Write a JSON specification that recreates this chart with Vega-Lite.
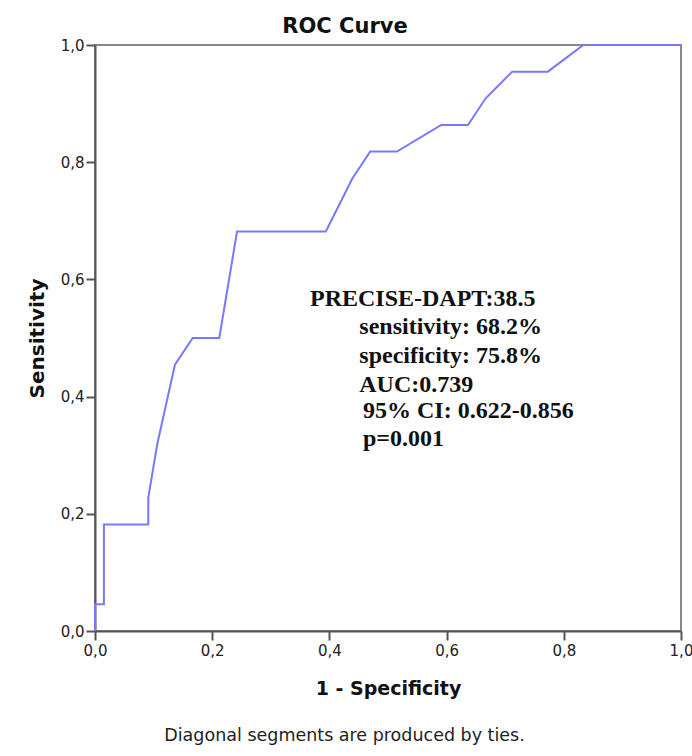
{
  "$schema": "https://vega.github.io/schema/vega-lite/v6.json",
  "width": 586,
  "height": 586,
  "autosize": {"type": "none"},
  "padding": {"left": 95, "top": 45, "right": 11, "bottom": 125},
  "background": "white",
  "config": {
    "view": {"stroke": "#888888", "strokeWidth": 2},
    "axis": {
      "domainColor": "#555555",
      "domainWidth": 2,
      "tickColor": "#555555",
      "tickWidth": 2,
      "tickSize": 9,
      "grid": false,
      "labelFont": "DejaVu Sans",
      "labelFontSize": 15,
      "labelColor": "#222222",
      "labelFlush": false,
      "labelOverlap": false,
      "titleFont": "DejaVu Sans",
      "titleFontSize": 19,
      "titleFontWeight": "bold",
      "titleColor": "#111111"
    }
  },
  "title": {
    "text": "ROC Curve",
    "font": "DejaVu Sans",
    "fontSize": 21,
    "fontWeight": "bold",
    "color": "#111111",
    "frame": "group",
    "anchor": "middle",
    "dx": -43,
    "offset": 1
  },
  "datasets": {
    "roc": [
      {"i": 0, "fpr": 0, "tpr": 0},
      {"i": 1, "fpr": 0, "tpr": 0.0455},
      {"i": 2, "fpr": 0.0152, "tpr": 0.0455},
      {"i": 3, "fpr": 0.0152, "tpr": 0.1818},
      {"i": 4, "fpr": 0.0909, "tpr": 0.1818},
      {"i": 5, "fpr": 0.0909, "tpr": 0.2273},
      {"i": 6, "fpr": 0.1061, "tpr": 0.3182},
      {"i": 7, "fpr": 0.1364, "tpr": 0.4545},
      {"i": 8, "fpr": 0.1667, "tpr": 0.5},
      {"i": 9, "fpr": 0.2121, "tpr": 0.5},
      {"i": 10, "fpr": 0.2424, "tpr": 0.6818},
      {"i": 11, "fpr": 0.3939, "tpr": 0.6818},
      {"i": 12, "fpr": 0.4394, "tpr": 0.7727},
      {"i": 13, "fpr": 0.4697, "tpr": 0.8182},
      {"i": 14, "fpr": 0.5152, "tpr": 0.8182},
      {"i": 15, "fpr": 0.5909, "tpr": 0.8636},
      {"i": 16, "fpr": 0.6364, "tpr": 0.8636},
      {"i": 17, "fpr": 0.6667, "tpr": 0.9091},
      {"i": 18, "fpr": 0.7121, "tpr": 0.9545},
      {"i": 19, "fpr": 0.7727, "tpr": 0.9545},
      {"i": 20, "fpr": 0.8333, "tpr": 1},
      {"i": 21, "fpr": 1, "tpr": 1}
    ],
    "notes": [
      {"text": "PRECISE-DAPT:38.5", "fpr": 0.3669, "tpr": 0.5546},
      {"text": "sensitivity: 68.2%", "fpr": 0.451, "tpr": 0.5068},
      {"text": "specificity: 75.8%", "fpr": 0.451, "tpr": 0.4578},
      {"text": "AUC:0.739", "fpr": 0.451, "tpr": 0.4084},
      {"text": "95% CI: 0.622-0.856", "fpr": 0.4573, "tpr": 0.363},
      {"text": "p=0.001", "fpr": 0.4573, "tpr": 0.3162}
    ],
    "foot": [
      {"text": "Diagonal segments are produced by ties.", "fpr": 0.4258, "tpr": -0.1877}
    ]
  },
  "layer": [
    {
      "data": {"name": "roc"},
      "mark": {"type": "line", "color": "#7878ff", "strokeWidth": 2, "clip": false},
      "encoding": {
        "x": {
          "field": "fpr",
          "type": "quantitative",
          "scale": {"domain": [0, 1], "nice": false, "zero": false},
          "axis": {
            "title": "1 - Specificity",
            "values": [0, 0.2, 0.4, 0.6, 0.8, 1],
            "labelExpr": "replace(format(datum.value, '.1f'), '.', ',')",
            "labelPadding": 3,
            "titlePadding": 21
          }
        },
        "y": {
          "field": "tpr",
          "type": "quantitative",
          "scale": {"domain": [0, 1], "nice": false, "zero": false},
          "axis": {
            "title": "Sensitivity",
            "titleFontSize": 20,
            "values": [0, 0.2, 0.4, 0.6, 0.8, 1],
            "labelExpr": "replace(format(datum.value, '.1f'), '.', ',')",
            "labelPadding": 2,
            "titlePadding": 13
          }
        },
        "order": {"field": "i", "type": "quantitative"}
      }
    },
    {
      "data": {"name": "notes"},
      "mark": {
        "type": "text",
        "font": "Liberation Serif",
        "fontWeight": "bold",
        "fontSize": 24,
        "align": "left",
        "baseline": "alphabetic",
        "color": "#111111"
      },
      "encoding": {
        "x": {"field": "fpr", "type": "quantitative"},
        "y": {"field": "tpr", "type": "quantitative"},
        "text": {"field": "text"}
      }
    },
    {
      "data": {"name": "foot"},
      "mark": {
        "type": "text",
        "font": "DejaVu Sans",
        "fontSize": 17.5,
        "align": "center",
        "baseline": "alphabetic",
        "color": "#222222",
        "clip": false
      },
      "encoding": {
        "x": {"field": "fpr", "type": "quantitative"},
        "y": {"field": "tpr", "type": "quantitative"},
        "text": {"field": "text"}
      }
    }
  ]
}
